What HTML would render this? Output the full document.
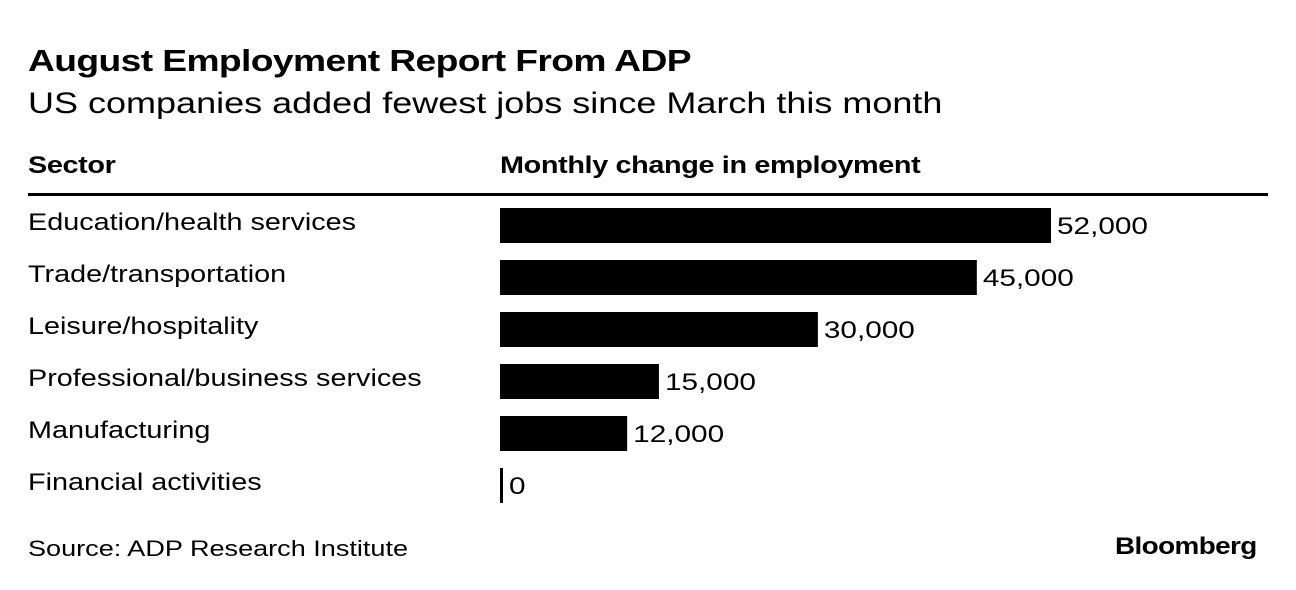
<!DOCTYPE html>
<html><head><meta charset="utf-8"><style>
body{margin:0;background:#fff;width:1296px;height:590px;position:relative;font-family:"Liberation Sans",Arial,sans-serif;color:#000;overflow:hidden}
.t{position:absolute;white-space:nowrap;transform-origin:0 0;transform:scaleX(1.2)}
</style></head><body>
<div class="t" style="left:28px;top:43px;font-size:31px;font-weight:bold;letter-spacing:-0.5px">August Employment Report From ADP</div>
<div class="t" style="left:28px;top:87px;font-size:30px">US companies added fewest jobs since March this month</div>
<div class="t" style="left:28px;top:152px;font-size:24px;font-weight:bold;letter-spacing:-0.3px">Sector</div>
<div class="t" style="left:500px;top:152px;font-size:24px;font-weight:bold;letter-spacing:-0.3px">Monthly change in employment</div>
<div style="position:absolute;left:28px;top:193px;width:1240px;height:3px;background:#000"></div>
<svg id="chart" width="1296" height="590" style="position:absolute;left:0;top:0"></svg>
<div class="t" style="left:28px;top:536px;font-size:22px;transform:scaleX(1.23)">Source: ADP Research Institute</div>
<div class="t" style="left:1115px;top:533px;font-size:24px;font-weight:bold;letter-spacing:-0.5px;transform:scaleX(1.16)">Bloomberg</div>
<script>
const categories=["Education/health services","Trade/transportation","Leisure/hospitality","Professional/business services","Manufacturing","Financial activities"];
const values=[52000,45000,30000,15000,12000,0];
const valueLabels=["52,000","45,000","30,000","15,000","12,000","0"];
const svg=document.getElementById('chart');
const NS='http://www.w3.org/2000/svg';
const x0=500,scale=551/52000;
function xs(v){return x0+v*scale;}
function yRow(i){return 208+i*52;}
categories.forEach((c,i)=>{
  const y=yRow(i);
  const lab=document.createElementNS(NS,'text');
  
  
  lab.setAttribute('transform','translate(28,'+(y+22)+') scale(1.2,1)');
  lab.setAttribute('font-size','24');lab.setAttribute('font-family','Liberation Sans, Arial, sans-serif');
  lab.textContent=c;svg.appendChild(lab);
  const w=Math.max(xs(values[i])-x0,3);
  const r=document.createElementNS(NS,'rect');
  
  
  r.setAttribute('x',x0);r.setAttribute('y',y);r.setAttribute('width',w);r.setAttribute('height',35);
  r.setAttribute('fill','#000');svg.appendChild(r);
  const vl=document.createElementNS(NS,'text');
  
  
  vl.setAttribute('transform','translate('+(x0+w+6)+','+(y+26)+') scale(1.24,1)');
  vl.setAttribute('font-size','24');vl.setAttribute('font-family','Liberation Sans, Arial, sans-serif');
  vl.textContent=valueLabels[i];svg.appendChild(vl);
});
</script>
</body></html>
